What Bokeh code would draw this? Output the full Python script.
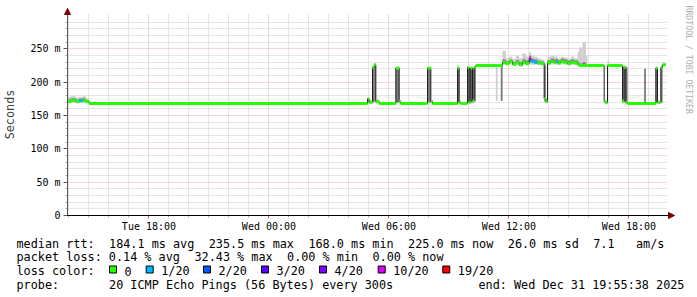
import math
import re
import numpy as np
from bokeh.plotting import figure
from bokeh.models import (Range1d, FixedTicker, DatetimeTickFormatter,
                          Arrow, NormalHead, ColumnDataSource)
from bokeh.core.properties import value
from bokeh.embed import file_html
from bokeh.resources import INLINE

# ---------------- data ----------------
START = "2025-12-30T13:55:38"     # left edge of the graph
SPAN_MIN = 1800                    # 30 hours shown
DATA_END_MIN = 1795                # last sample

# start of each step (minutes after START), median rtt (ms), lost pings of 20
seg_min = [0, 10, 25, 35, 45, 55, 65, 900, 905, 915, 920, 925, 935, 985, 995, 1000,
           1080, 1090, 1095, 1170, 1175, 1180, 1200, 1205, 1210, 1215, 1220, 1225,
           1285, 1290, 1300, 1305, 1315, 1325, 1335, 1345, 1355, 1365, 1375, 1385,
           1390, 1400, 1410, 1420, 1430, 1435, 1440, 1450, 1460, 1465, 1470, 1480,
           1490, 1500, 1510, 1520, 1530, 1535, 1545, 1555, 1560, 1610, 1615, 1620,
           1625, 1665, 1670, 1675, 1680, 1730, 1735, 1765, 1770, 1780, 1785]
seg_med = [171, 173, 171, 172, 173, 171, 168, 175, 170, 222, 226, 171, 168, 221, 171, 168,
           221, 171, 168, 221, 170, 168, 222, 170, 221, 172, 222, 225,
           225, 225, 225, 230, 228, 231, 227, 229, 226, 230, 228, 236,
           231, 230, 229, 228, 175, 171, 229, 231, 230, 231, 229, 231,
           230, 228, 230, 229, 227, 225, 225, 225, 225, 171, 169, 225,
           225, 172, 222, 170, 168, 168, 168, 221, 170, 222, 226]
seg_loss = [0, 0, 0, 1, 0, 0, 0, 0, 0, 0, 0, 0, 0, 0, 0, 0,
            0, 0, 0, 0, 0, 0, 0, 0, 0, 0, 0, 0,
            0, 0, 0, 0, 0, 0, 0, 0, 0, 0, 0, 10,
            1, 1, 0, 0, 0, 0, 0, 0, 0, 1, 0, 0,
            0, 0, 0, 0, 0, 0, 0, 0, 0, 0, 0, 0,
            0, 0, 0, 0, 0, 0, 0, 0, 0, 0, 0]
# full spread of the pings (light smoke) and the spread next to the median (dark smoke)
smoke_lo = [168, 169, 168, 169, 169, 168, 168, 168, 168, 168, 170, 168, 168, 168, 168, 168,
            168, 168, 168, 168, 168, 168, 168, 168, 168, 168, 170, 225,
            172, 225, 172, 226, 225, 227, 224, 226, 224, 226, 225, 228,
            226, 226, 226, 225, 170, 168, 226, 227, 226, 227, 226, 227,
            226, 225, 226, 226, 224, 223, 224, 224, 225, 168, 168, 225,
            225, 168, 168, 168, 168, 168, 168, 168, 168, 168, 225]
smoke_hi = [178, 179, 177, 178, 179, 176, 168, 177, 173, 224, 228, 174, 168, 223, 173, 168,
            223, 173, 168, 226, 172, 168, 224, 222, 223, 222, 225, 225,
            225, 225, 226, 247, 236, 238, 235, 240, 236, 243, 238, 245,
            240, 238, 236, 234, 228, 176, 238, 240, 238, 239, 236, 238,
            237, 235, 238, 236, 245, 252, 260, 240, 225, 173, 171, 232,
            225, 225, 225, 224, 168, 221, 168, 223, 172, 226, 228]
core_lo = [170, 171, 170, 171, 171, 170, 168, 170, 169, 170, 172, 169, 168, 170, 169, 168,
           170, 169, 168, 170, 169, 168, 170, 170, 170, 170, 172, 225,
           225, 225, 172, 228, 227, 229, 226, 228, 225, 228, 227, 232,
           229, 228, 227, 227, 172, 169, 227, 229, 228, 229, 227, 229,
           228, 227, 228, 227, 226, 224, 224, 225, 225, 170, 169, 225,
           225, 170, 170, 169, 168, 170, 168, 170, 169, 170, 225]
core_hi = [174, 176, 174, 175, 176, 173, 168, 175, 171, 222, 226, 172, 168, 221, 172, 168,
           221, 172, 168, 221, 171, 168, 222, 221, 221, 221, 222, 225,
           225, 225, 225, 234, 231, 234, 230, 233, 230, 234, 232, 240,
           235, 234, 232, 231, 225, 173, 233, 235, 234, 235, 233, 235,
           234, 232, 234, 233, 231, 228, 230, 226, 225, 172, 170, 226,
           225, 223, 222, 222, 168, 220, 168, 221, 171, 222, 227]

loss_levels = [0, 1, 2, 3, 4, 10, 19]
loss_labels = ["0", "1/20", "2/20", "3/20", "4/20", "10/20", "19/20"]
loss_colors = ["#26ff00", "#00b8ff", "#0059ff", "#5e00ff", "#7e00ff", "#dd00ff", "#ff0000"]

y_major = [0, 50, 100, 150, 200, 250]
y_labels = ["0", "50 m", "100 m", "150 m", "200 m", "250 m"]
x_major = ["2025-12-30T18:00", "2025-12-31T00:00", "2025-12-31T06:00",
           "2025-12-31T12:00", "2025-12-31T18:00"]

stat_line1 = "median rtt:  184.1 ms avg  235.5 ms max  168.0 ms min  225.0 ms now  26.0 ms sd  7.1   am/s"
stat_line2 = "packet loss: 0.14 % avg  32.43 % max  0.00 % min  0.00 % now"
loss_title = "loss color:"
probe_line = "probe:       20 ICMP Echo Pings (56 Bytes) every 300s"
end_line = "end: Wed Dec 31 19:55:38 2025"
watermark = "RRDTOOL / TOBI OETIKER"

# ---------------- helpers ----------------
EPOCH = np.datetime64("1970-01-01T00:00:00")
def to_ms(s):
    return float((np.datetime64(s) - EPOCH) / np.timedelta64(1, "ms"))

start_ms = to_ms(START)
def t_ms(minutes):
    return start_ms + minutes * 60000.0

W, H = 697, 297
# graph area in page pixels
FL, FR, FT, FB = 67, 667, 13, 215
Y_TOP = 303.0
def sx(px):   # page x -> data x
    return t_ms((px - FL) * SPAN_MIN / (FR - FL))
def sy(py):   # page y -> data y
    return (FB - py) * Y_TOP / (FB - FT)

t0 = [t_ms(m) for m in seg_min]
t1 = [t_ms(m) for m in seg_min[1:]] + [t_ms(DATA_END_MIN)]

def loss_color(n):
    c = loss_colors[0]
    for lv, col in zip(loss_levels, loss_colors):
        if n >= lv:
            c = col
    return c

src = ColumnDataSource(dict(t0=t0, t1=t1, med=seg_med, lo=smoke_lo, hi=smoke_hi,
                            clo=core_lo, chi=core_hi,
                            col=[loss_color(n) for n in seg_loss]))

# ---------------- figure (frame covers the whole page; axes are fixed inside) ----------------
p = figure(width=W, height=H, x_axis_type="datetime",
           x_range=Range1d(sx(0), sx(W)), y_range=Range1d(sy(H), sy(0)),
           output_backend="svg", toolbar_location=None,
           min_border_left=0, min_border_right=0, min_border_top=0, min_border_bottom=0)
p.outline_line_color = None
p.background_fill_color = "white"
p.border_fill_color = "white"

# axes
p.yaxis.fixed_location = t_ms(0)
p.xaxis.fixed_location = 0
p.yaxis.bounds = (0, Y_TOP)
p.xaxis.bounds = (t_ms(0), t_ms(SPAN_MIN))
p.yaxis.ticker = FixedTicker(ticks=y_major,
                             minor_ticks=[v for v in range(10, 300, 10) if v % 50])
p.yaxis.major_label_overrides = dict(zip(y_major, y_labels))
x_major_ms = [to_ms(s) for s in x_major]
first_hour = t_ms(0) + (3600000 - (t_ms(0) % 3600000))
x_minor_ms = [first_hour + k * 3600000 for k in range(30)]
x_minor_ms = [v for v in x_minor_ms if v not in x_major_ms and v <= t_ms(SPAN_MIN)]
p.xaxis.ticker = FixedTicker(ticks=x_major_ms, minor_ticks=x_minor_ms)
fmt = "%a %H:%M"
p.xaxis.formatter = DatetimeTickFormatter(microseconds=fmt, milliseconds=fmt, seconds=fmt,
                                          minsec=fmt, minutes=fmt, hourmin=fmt, hours=fmt,
                                          days=fmt, months=fmt, years=fmt)
for ax in (p.xaxis, p.yaxis):
    ax.major_label_text_font = "DejaVu Sans Mono"
    ax.major_label_text_font_size = "10px"
    ax.major_label_text_color = "#000000"
    ax.major_tick_in = 0
    ax.minor_tick_in = 0
p.yaxis.axis_line_color = "#555555"
p.yaxis.major_tick_line_color = "#555555"
p.yaxis.minor_tick_line_color = "#aaaaaa"
p.yaxis.major_tick_out = 4
p.yaxis.minor_tick_out = 2
p.yaxis.major_label_standoff = 3
p.xaxis.axis_line_color = "#000000"
p.xaxis.major_tick_line_color = "#c06060"
p.xaxis.minor_tick_line_color = "#aaaaaa"
p.xaxis.major_tick_out = 3
p.xaxis.minor_tick_out = 2
p.xaxis.major_label_standoff = 2
p.yaxis.axis_label = "Seconds"
p.yaxis.axis_label_text_font = "DejaVu Sans Mono"
p.yaxis.axis_label_text_font_size = "11.8px"
p.yaxis.axis_label_text_font_style = "normal"
p.yaxis.axis_label_standoff = 10

# grid, limited to the graph area
p.xgrid.cross_bounds = (0, Y_TOP)
p.ygrid.cross_bounds = (t_ms(0), t_ms(SPAN_MIN))
for g in (p.xgrid, p.ygrid):
    g.grid_line_color = "#e8b0b0"
    g.grid_line_dash = "1 1"
    g.minor_grid_line_color = "#cccccc"
    g.minor_grid_line_dash = "1 1"

# smoke
p.quad(left="t0", right="t1", bottom="lo", top="hi", source=src,
       fill_color="#cdcdcd", line_color=None)
p.quad(left="t0", right="t1", bottom="clo", top="chi", source=src,
       fill_color="#7a7a7a", line_color=None)

# median as a step line (dark) and loss-coloured thick segments
step_x, step_y = [], []
for a, b, m in zip(t0, t1, seg_med):
    step_x += [a, b]
    step_y += [m, m]
p.line(step_x, step_y, line_color="#202020", line_width=1)
p.segment(x0="t0", x1="t1", y0="med", y1="med", source=src,
          line_color="col", line_width=3)

# axis arrows
p.add_layout(Arrow(end=NormalHead(size=6, fill_color="#7f0000", line_color="#7f0000"),
                   x_start=t_ms(0), y_start=0, x_end=t_ms(0), y_end=sy(8),
                   line_color="#555555", line_width=1))
p.add_layout(Arrow(end=NormalHead(size=6, fill_color="#7f0000", line_color="#7f0000"),
                   x_start=t_ms(0), y_start=0, x_end=sx(674), y_end=0,
                   line_color="#000000", line_width=1))

# legend / statistics texts (monospaced columns)
MONO = "DejaVu Sans Mono"
CW = 7.12          # advance of one character of the legend font, px
def text(px, py, s, size="11.8px", color="#000000", align="left", angle=0.0,
         baseline="alphabetic"):
    p.text(x=[sx(px)], y=[sy(py)], text=[s], text_font=value(MONO),
           text_font_size=value(size), text_color=color, text_align=align,
           text_baseline=baseline, angle=angle)

def mono_line(px, py, s):
    # place each run of words at its own character column so that wide gaps are kept
    for m in re.finditer(r"\S+(?: \S+)*", s):
        text(px + m.start() * CW, py, m.group())

mono_line(16, 243.3, stat_line1)
mono_line(16, 256.8, stat_line2)
mono_line(16, 270.5, loss_title)
box_left = [109, 145.7, 203, 261, 319, 377.7, 442.3]
p.quad(left=[sx(b) for b in box_left], right=[sx(b + 7) for b in box_left],
       top=[sy(265.5)] * len(box_left), bottom=[sy(272.5)] * len(box_left),
       fill_color=loss_colors, line_color="#000000", line_width=1)
for bl, lab in zip(box_left, loss_labels):
    text(bl + 15, 270.5, lab)
mono_line(16, 284, probe_line)
mono_line(478, 284, end_line)
text(688, 5, watermark, size="8.2px", color="#b0b0b0", angle=-math.pi / 2,
     baseline="middle")

open("out.html", "w").write(file_html(p, INLINE))
